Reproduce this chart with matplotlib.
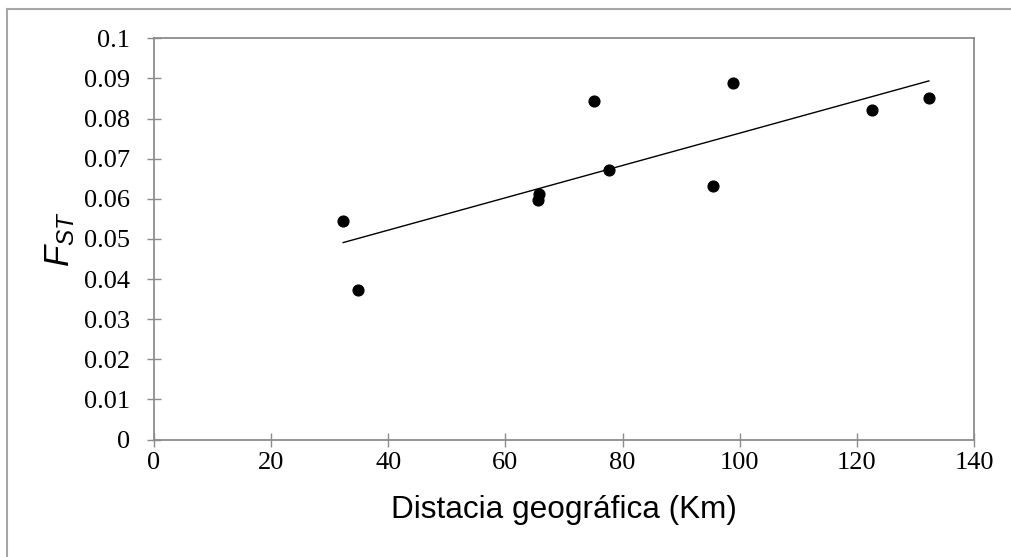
import numpy as np
import matplotlib
matplotlib.use('Agg')
import matplotlib.pyplot as plt
from matplotlib.lines import Line2D

# distancia geografica (Km) vs Fst
distancia = [32.3, 34.9, 65.5, 65.8, 75.2, 77.7, 95.4, 98.9, 122.6, 132.3]
fst = [0.0545, 0.0373, 0.0596, 0.0612, 0.0843, 0.0671, 0.0632, 0.0889, 0.0821, 0.0851]

x_ticks = [0, 20, 40, 60, 80, 100, 120, 140]
y_ticks = [0, 0.01, 0.02, 0.03, 0.04, 0.05, 0.06, 0.07, 0.08, 0.09, 0.1]
y_tick_labels = ['0', '0.01', '0.02', '0.03', '0.04', '0.05', '0.06', '0.07', '0.08', '0.09', '0.1']

plt.rcParams['mathtext.fontset'] = 'custom'
plt.rcParams['mathtext.it'] = 'Liberation Sans:italic'
plt.rcParams['mathtext.rm'] = 'Liberation Sans'

axis_gray = '#8c8c8c'

fig = plt.figure(figsize=(10.11, 5.57), dpi=100)
ax = fig.add_axes([154 / 1011, 117.5 / 557, 820 / 1011, 401.2 / 557])

ax.scatter(distancia, fst, s=60, color='black', zorder=3)

# linear trendline
slope, intercept = np.polyfit(distancia, fst, 1)
xs = np.array([min(distancia), max(distancia)])
ax.plot(xs, slope * xs + intercept, color='black', linewidth=1.0)

ax.set_xlim(0, 140)
ax.set_ylim(0, 0.1)
ax.set_xticks(x_ticks)
ax.set_yticks(y_ticks)
ax.set_yticklabels(y_tick_labels)

for s in ax.spines.values():
    s.set_color(axis_gray)
    s.set_linewidth(1.3)

ax.tick_params(direction='inout', length=10.5, width=1.0, color=axis_gray,
               labelsize=19, labelcolor='black')
ax.tick_params(axis='x', pad=4)
ax.tick_params(axis='y', pad=12)
for lab in ax.get_xticklabels() + ax.get_yticklabels():
    lab.set_fontfamily('Liberation Serif')

ax.set_xlabel('Distacia geográfica (Km)', fontsize=22.7, fontfamily='Liberation Sans', labelpad=15)
ax.set_ylabel(r'$F_{ST}$', fontsize=25, labelpad=5)

# outer chart frame (only top and left edges visible)
fig.add_artist(Line2D([7 / 1011, 1.0], [1 - 9 / 557, 1 - 9 / 557], color='#a6a6a6', linewidth=1.5,
                      transform=fig.transFigure))
fig.add_artist(Line2D([7 / 1011, 7 / 1011], [0.0, 1 - 9 / 557], color='#a6a6a6', linewidth=1.5,
                      transform=fig.transFigure))

fig.savefig('out.png', dpi=100)
